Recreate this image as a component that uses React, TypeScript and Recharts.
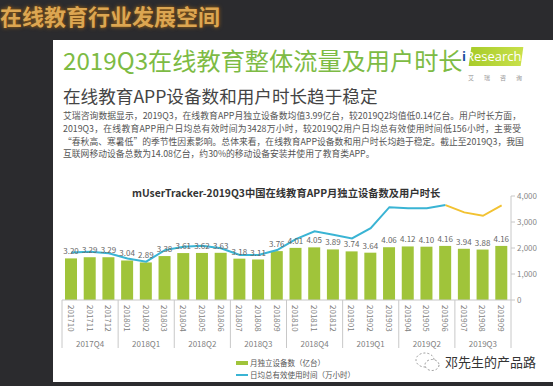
import React from 'react';
import { ComposedChart, Bar, Line, XAxis, YAxis, LabelList, Legend } from 'recharts';

const months = ['201710','201711','201712','201801','201802','201803','201804','201805','201806','201807','201808','201809','201810','201811','201812','201901','201902','201903','201904','201905','201906','201907','201908','201909'];
const quarters = ['2017Q4','2018Q1','2018Q2','2018Q3','2018Q4','2019Q1','2019Q2','2019Q3'];
const devices = [3.20,3.29,3.29,3.04,2.89,3.38,3.61,3.62,3.63,3.18,3.11,3.76,4.01,4.05,3.89,3.74,3.64,4.06,4.12,4.10,4.16,3.94,3.88,4.16];
const hours = [1830,1860,1795,1600,1475,1920,2050,2090,1990,1730,1730,1920,2340,2640,2510,2370,2760,3570,3530,3530,3650,3370,3240,3640];
const highlightStart = 20; // last months drawn in yellow
const rightTicks = [0,500,1000,1500,2000,2500,3000,3500,4000];

const data = months.map((m, i) => ({
  month: m,
  devices: devices[i],
  hoursBlue: i <= highlightStart ? hours[i] : null,
  hoursYellow: i >= highlightStart ? hours[i] : null,
}));

const CHART_W = 553;
const MARGIN = { top: 16, right: 5, bottom: 2, left: 62 };
const RIGHT_AXIS_W = 37;
const PLOT_W = CHART_W - MARGIN.left - MARGIN.right - RIGHT_AXIS_W;

const FONT = '"Noto Sans CJK SC", "Noto Sans", sans-serif';

const MonthTick = (props: any) => {
  const { x, y, payload } = props;
  const i = props.index ?? payload.index;
  const step = PLOT_W / months.length;
  const ty = y + 5;
  return (
    <g>
      <text x={x} y={ty} transform={`rotate(90 ${x} ${ty})`} fontSize={8} fill="#808080" textAnchor="start" dominantBaseline="central" fontFamily={FONT}>
        {payload.value}
      </text>
      {i % 3 === 0 && (
        <line x1={x - step / 2} x2={x - step / 2} y1={y} y2={y + 48} stroke="#c8c8c8" strokeWidth={1} />
      )}
      {i === months.length - 1 && (
        <line x1={x + step / 2} x2={x + step / 2} y1={y} y2={y + 48} stroke="#c8c8c8" strokeWidth={1} />
      )}
      {i % 3 === 1 && (
        <text x={x} y={y + 43} fontSize={8} fill="#808080" textAnchor="middle" dominantBaseline="central" fontFamily={FONT}>
          {quarters[Math.floor(i / 3)]}
        </text>
      )}
    </g>
  );
};

const LegendContent = () => (
  <div style={{ fontFamily: FONT, fontSize: 7.5, color: '#555', lineHeight: '12px', height: 26 }}>
    <div style={{ display: 'flex', alignItems: 'center', height: 12 }}>
      <span style={{ display: 'inline-block', width: 12, height: 4, background: '#a0c43a', marginRight: 2 }} />
      <span>月独立设备数（亿台）</span>
    </div>
    <div style={{ display: 'flex', alignItems: 'center', height: 12 }}>
      <span style={{ display: 'inline-block', width: 12, height: 2, background: '#3ab4d4', marginRight: 2 }} />
      <span>日均总有效使用时间（万小时）</span>
    </div>
  </div>
);

const paraLines = [
  '艾瑞咨询数据显示，2019Q3，在线教育APP月独立设备数均值3.99亿台，较2019Q2均值低0.14亿台。用户时长方面，',
  '2019Q3，在线教育APP用户日均总有效时间为3428万小时，较2019Q2用户日均总有效使用时间低156小时，主要受',
  '“春秋高、寒暑低”的季节性因素影响。总体来看，在线教育APP设备数和用户时长均趋于稳定。截止至2019Q3，我国',
  '互联网移动设备总数为14.08亿台，约30%的移动设备安装并使用了教育类APP。',
];

export default function App() {
  return (
    <div style={{ position: 'absolute', left: 0, top: 0, width: 553, height: 386, background: '#2b2b2e', overflow: 'hidden', fontFamily: FONT }}>
      <div style={{ position: 'absolute', left: 0, top: 4, fontSize: 22, lineHeight: '22px', fontWeight: 700, color: '#dca652', textShadow: '0 0 2px #6b4310, 0 0 4px #a06a20', whiteSpace: 'nowrap' }}>
        在线教育行业发展空间
      </div>
      <div style={{ position: 'absolute', left: 53, top: 40, width: 500, height: 342, background: '#ffffff' }} />
      <div style={{ position: 'absolute', left: 63, top: 47, fontSize: 24.2, lineHeight: '25px', color: '#7dbb44', whiteSpace: 'nowrap' }}>
        2019Q3在线教育整体流量及用户时长
      </div>
      <div style={{ position: 'absolute', left: 63, top: 86, fontSize: 17.6, lineHeight: '20px', color: '#444', whiteSpace: 'nowrap' }}>
        在线教育APP设备数和用户时长趋于稳定
      </div>
      {/* iResearch logo */}
      <div style={{ position: 'absolute', left: 470, top: 47, width: 52, height: 19, background: 'linear-gradient(90deg,#a8cc2a,#c8e04a)', transform: 'skewX(-8deg)' }} />
      <div style={{ position: 'absolute', left: 462, top: 47, fontSize: 13, lineHeight: '19px', color: '#fff', fontFamily: '"Open Sans", sans-serif', whiteSpace: 'nowrap' }}>
        <span style={{ color: '#1d4fa0', fontWeight: 700 }}>i</span>Research
      </div>
      <div style={{ position: 'absolute', left: 468, top: 75, fontSize: 6, lineHeight: '6px', color: '#999', letterSpacing: 10, whiteSpace: 'nowrap' }}>
        艾瑞咨询
      </div>
      {paraLines.map((t, i) => (
        <div key={i} style={{ position: 'absolute', left: 63, top: 110 + i * 12.8, width: 458, fontSize: 8.8, lineHeight: '12px', color: '#555', whiteSpace: 'nowrap', textAlign: i < 3 ? 'justify' : 'left', textAlignLast: i < 3 ? 'justify' : 'left' } as any}>
          {t}
        </div>
      ))}
      <div style={{ position: 'absolute', left: 132, top: 187, fontSize: 10.3, lineHeight: '12px', fontWeight: 700, color: '#333', whiteSpace: 'nowrap' }}>
        mUserTracker-2019Q3中国在线教育APP月独立设备数及用户时长
      </div>
      <div style={{ position: 'absolute', left: 0, top: 180 }}>
        <ComposedChart width={CHART_W} height={205} data={data} margin={MARGIN}>
          <XAxis dataKey="month" interval={0} tickLine={false} tickSize={0} tickMargin={0} height={57} axisLine={{ stroke: '#c8c8c8' }} tick={(p: any) => <MonthTick {...p} />} />
          <YAxis yAxisId="left" hide domain={[0, 8]} />
          <YAxis yAxisId="right" orientation="right" domain={[0, 4000]} ticks={rightTicks} width={RIGHT_AXIS_W} tickSize={4} tickMargin={2}
            axisLine={{ stroke: '#c8c8c8' }} tickLine={{ stroke: '#c8c8c8' }} tick={{ fontSize: 8, fill: '#888', fontFamily: FONT }}
            tickFormatter={(v: number) => v.toLocaleString('en-US')} />
          <Bar yAxisId="left" dataKey="devices" fill="#a0c43a" barSize={12} isAnimationActive={false}>
            <LabelList dataKey="devices" position="top" offset={4} fontSize={8} fill="#666" fontFamily={FONT} formatter={(v: any) => Number(v).toFixed(2)} />
          </Bar>
          <Line yAxisId="right" dataKey="hoursBlue" stroke="#3ab4d4" strokeWidth={2} dot={false} activeDot={false} isAnimationActive={false} />
          <Line yAxisId="right" dataKey="hoursYellow" stroke="#f2c232" strokeWidth={2} dot={false} activeDot={false} isAnimationActive={false} />
          <Legend verticalAlign="bottom" align="left" height={26} width={150} wrapperStyle={{ left: 236, bottom: 2 }} content={() => <LegendContent />} />
        </ComposedChart>
      </div>
      {/* watermark */}
      <svg style={{ position: 'absolute', left: 414, top: 350 }} width={28} height={24}>
        <ellipse cx={11} cy={10} rx={9} ry={7} fill="none" stroke="#999" strokeWidth={1} strokeDasharray="2 2" />
        <ellipse cx={18} cy={15} rx={7} ry={5.5} fill="#fff" stroke="#999" strokeWidth={1} strokeDasharray="2 2" />
      </svg>
      <div style={{ position: 'absolute', left: 445, top: 355, fontSize: 13, lineHeight: '14px', color: '#333', whiteSpace: 'nowrap' }}>
        邓先生的产品路
      </div>
    </div>
  );
}
